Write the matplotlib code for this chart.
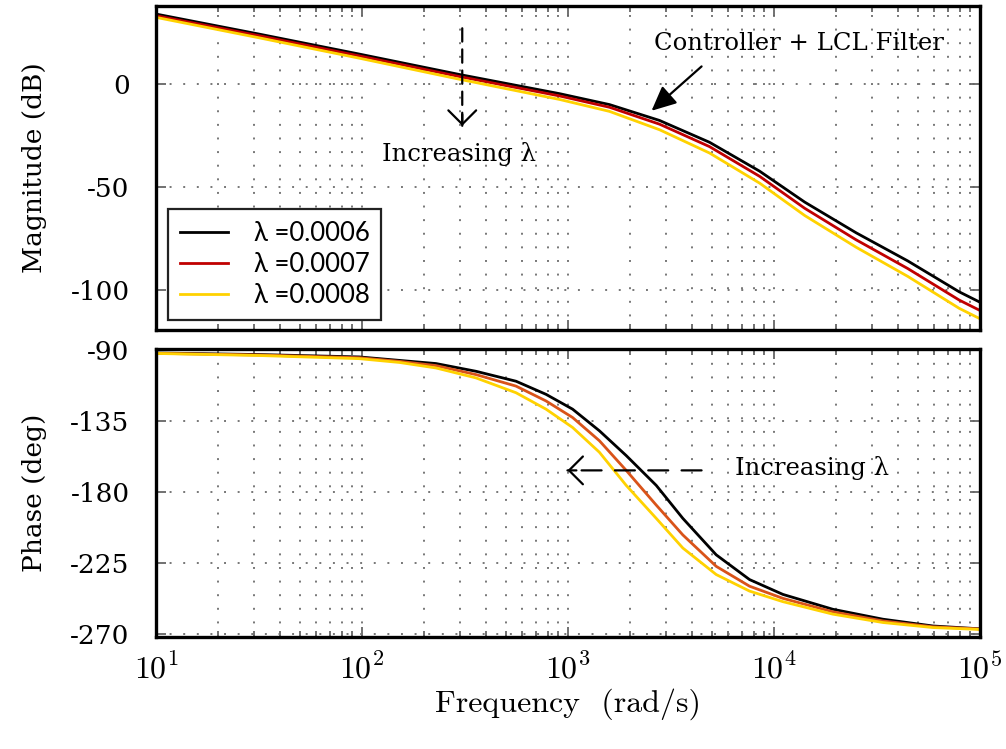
import numpy as np
import matplotlib.pyplot as plt

plt.rcParams['mathtext.fontset'] = 'cm'
plt.rcParams['axes.unicode_minus'] = False

# Bode data (frequency in rad/s)
w_mag = [10, 31.6, 97, 297, 910, 1592, 2786, 4875, 8531, 14125, 25119, 44668, 79433, 100000]
mag_l6 = [33.7, 24.0, 14.3, 4.4, -4.9, -10.2, -17.9, -28.5, -42.5, -57.5, -72.4, -86.0, -101.0, -106.0]
mag_l7 = [32.9, 23.2, 13.4, 3.4, -6.0, -11.5, -19.7, -30.6, -45.0, -60.5, -75.8, -89.7, -105.0, -110.0]
mag_l8 = [32.1, 22.2, 12.3, 2.1, -7.7, -13.5, -22.4, -33.7, -48.3, -64.0, -79.4, -93.5, -109.0, -114.0]

w_ph = [10, 31.6, 97, 152, 229, 358, 560, 783, 1054, 1422, 1919, 2685, 3614, 5248,
        7621, 11066, 19320, 33810, 59160, 100000]
ph_l6 = [-92.0, -93.0, -94.5, -96.7, -98.7, -103.6, -109.9, -118.2, -127.6, -141.3,
         -157.0, -175.9, -196.8, -219.9, -235.6, -245.0, -254.4, -260.7, -265.0, -266.8]
ph_l7 = [-92.2, -93.3, -95.0, -97.3, -100.0, -105.7, -113.0, -122.4, -132.9, -147.6,
         -166.4, -188.4, -207.3, -227.2, -239.8, -247.5, -256.0, -261.8, -265.5, -266.9]
ph_l8 = [-92.3, -93.6, -95.6, -98.0, -101.5, -107.8, -117.2, -127.6, -139.2, -154.9,
         -175.9, -196.8, -215.6, -232.4, -242.9, -249.6, -257.5, -262.8, -266.0, -267.2]

labels = ['λ =0.0006', 'λ =0.0007', 'λ =0.0008']
mag_colors = ['black', '#C00000', '#FFD200']
ph_colors = ['black', '#D95319', '#FFD200']

serif = 'DejaVu Serif'
grid_style = dict(color='#777777', linestyle=(0, (1, 6)), linewidth=1.4)

fig = plt.figure(figsize=(10.06, 7.49), dpi=100)
ax1 = fig.add_axes([0.155, 0.5594, 0.819, 0.4326])
ax2 = fig.add_axes([0.155, 0.1495, 0.819, 0.3845])


def style_axis(ax):
    ax.set_xscale('log')
    ax.set_xlim(10, 1e5)
    ax.grid(True, which='both', axis='x', **grid_style)
    ax.grid(True, which='major', axis='y', **grid_style)
    ax.tick_params(which='both', direction='in', top=True, right=True,
                   color='#666666', width=1.3)
    ax.tick_params(which='major', length=7)
    ax.tick_params(which='minor', length=4)
    ax.tick_params(axis='y', labelsize=19, pad=19)
    for lab in ax.get_yticklabels():
        lab.set_family(serif)
    for sp in ax.spines.values():
        sp.set_linewidth(2.4)


# Magnitude
for vals, c, lab in zip([mag_l6, mag_l7, mag_l8], mag_colors, labels):
    ax1.plot(w_mag, vals, color=c, lw=2.0, label=lab)
ax1.set_ylim(-119.5, 37.6)
ax1.set_yticks([-100, -50, 0])
style_axis(ax1)
ax1.tick_params(axis='x', labelbottom=False)
ax1.set_ylabel('Magnitude (dB)', family=serif, fontsize=19, labelpad=17)

leg = ax1.legend(loc='lower left', bbox_to_anchor=(0.0146, 0.031), borderaxespad=0,
                 prop={'family': 'Lato', 'size': 18.5}, fancybox=False, framealpha=1,
                 edgecolor='#222222', handlelength=1.9, handletextpad=1.0,
                 labelspacing=0.25, borderpad=0.45)
leg.get_frame().set_linewidth(1.6)

# dashed arrow with open head
ax1.annotate('', xy=(307, -20.5), xytext=(307, 26.8),
             arrowprops=dict(arrowstyle='-', color='black', lw=1.6,
                             linestyle=(0, (6, 3.5)), shrinkA=0, shrinkB=0))
ax1.annotate('', xy=(307, -20.5), xytext=(307, -15),
             arrowprops=dict(arrowstyle='->,head_length=0.5,head_width=0.5', color='black',
                             lw=1.6, shrinkA=0, shrinkB=0, mutation_scale=20))
ax1.text(297, -34, 'Increasing λ', family=serif, fontsize=17.5, ha='center', va='center')

ax1.annotate('', xy=(2548, -13.2), xytext=(4457, 8.3),
             arrowprops=dict(arrowstyle='-|>,head_length=0.75,head_width=0.35', color='black',
                             lw=1.6, shrinkA=0, shrinkB=0, mutation_scale=20))
ax1.text(13190, 19.5, 'Controller + LCL Filter', family=serif, fontsize=17.5,
         ha='center', va='center')

# Phase
for vals, c in zip([ph_l6, ph_l7, ph_l8], ph_colors):
    ax2.plot(w_ph, vals, color=c, lw=2.0)
ax2.set_ylim(-272, -89.5)
ax2.set_yticks([-270, -225, -180, -135, -90])
style_axis(ax2)
ax2.set_xticks([1e1, 1e2, 1e3, 1e4, 1e5])
ax2.set_xticklabels([r'$10^{1}$', r'$10^{2}$', r'$10^{3}$', r'$10^{4}$', r'$10^{5}$'])
ax2.tick_params(axis='x', labelsize=23, pad=12)
ax2.set_ylabel('Phase (deg)', family=serif, fontsize=19, labelpad=17)
ax2.set_xlabel('Frequency  (rad/s)', family='cmr10', fontsize=23, labelpad=2)

ax2.annotate('', xy=(995, -166.4), xytext=(4457, -166.4),
             arrowprops=dict(arrowstyle='-', color='black', lw=1.6,
                             linestyle=(0, (9, 6)), shrinkA=0, shrinkB=0))
ax2.annotate('', xy=(995, -166.4), xytext=(1100, -166.4),
             arrowprops=dict(arrowstyle='->,head_length=0.5,head_width=0.5', color='black',
                             lw=1.6, shrinkA=0, shrinkB=0, mutation_scale=20))
ax2.text(15280, -165.2, 'Increasing λ', family=serif, fontsize=17.5, ha='center', va='center')

fig.savefig('out.png', dpi=100)
